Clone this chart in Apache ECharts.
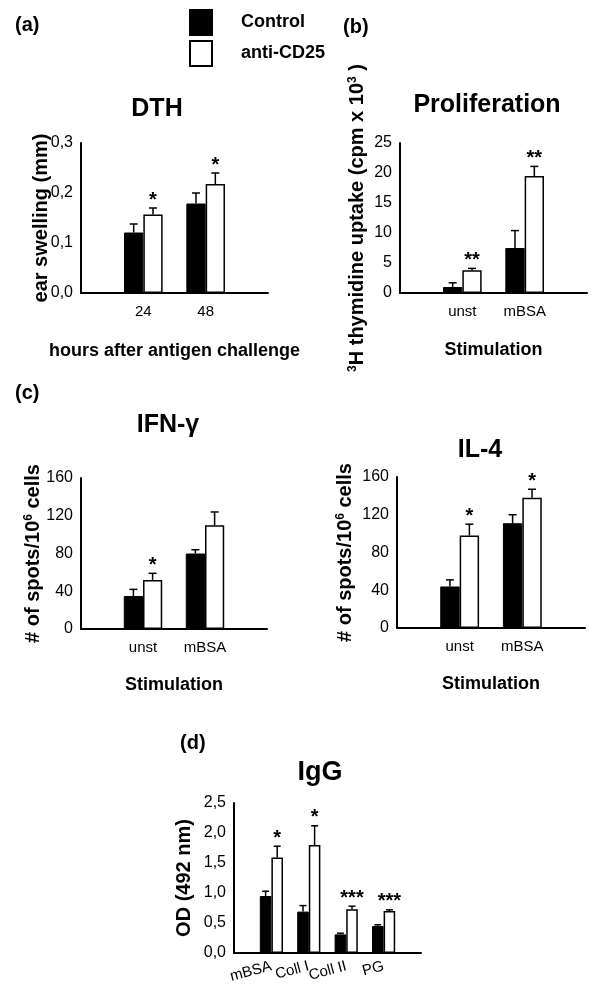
<!DOCTYPE html>
<html><head><meta charset="utf-8">
<script src="https://cdn.jsdelivr.net/npm/echarts@6/dist/echarts.min.js"></script>
<style>html,body{margin:0;padding:0;background:#fff}#c{width:600px;height:1000px}</style>
</head><body><div id="c"></div>
<script>
const FONT = '"Liberation Sans", Arial, Helvetica, sans-serif';
const seriesNames = ['Control', 'anti-CD25'];

// (a) DTH
const dthCategories = ['', '24', '48', ''];
const dthControl = [0.121, 0.179];
const dthControlSd = [0.017, 0.021];
const dthAnti = [0.157, 0.218];
const dthAntiSd = [0.013, 0.022];
const dthStars = ['*', '*'];

// (b) Proliferation
const prolCategories = ['', 'unst', 'mBSA', ''];
const prolControl = [1.0, 7.5];
const prolControlSd = [0.7, 2.9];
const prolAnti = [3.8, 19.5];
const prolAntiSd = [0.3, 1.6];
const prolStars = ['**', '**'];

// (c) IFN-gamma
const ifnCategories = ['', 'unst', 'mBSA', ''];
const ifnControl = [35, 80];
const ifnControlSd = [7, 4];
const ifnAnti = [52, 110];
const ifnAntiSd = [7, 14];
const ifnStars = ['*', ''];

// (c) IL-4
const il4Categories = ['', 'unst', 'mBSA', ''];
const il4Control = [44, 111];
const il4ControlSd = [7, 9];
const il4Anti = [98, 138];
const il4AntiSd = [12, 9];
const il4Stars = ['*', '*'];

// (d) IgG
const iggCategories = ['', 'mBSA', 'Coll I', 'Coll II', 'PG', ''];
const iggControl = [0.95, 0.69, 0.31, 0.45];
const iggControlSd = [0.08, 0.10, 0.02, 0.02];
const iggAnti = [1.59, 1.80, 0.73, 0.70];
const iggAntiSd = [0.19, 0.32, 0.05, 0.02];
const iggStars = ['*', '*', '***', '***'];

// axis ranges [min, max, interval]
const dthRange = [0, 0.3, 0.1];
const prolRange = [0, 25, 5];
const ifnRange = [0, 160, 40];
const il4Range = [0, 160, 40];
const iggRange = [0, 2.5, 0.5];

const BAR_FRAC = 0.31;
const comma1 = v => v.toFixed(1).replace('.', ',');
const intFmt = v => String(Math.round(v));

const panels = [
  { cats: dthCategories, c: dthControl, cs: dthControlSd, a: dthAnti, as: dthAntiSd, stars: dthStars, range: dthRange, fmt: comma1,
    grid: { left: 81, top: 143, width: 187, height: 150 },
    yName: 'ear swelling (mm)', yGap: 30, xName: 'hours after antigen challenge', xGap: 49, rotate: 0, xMargin: 11 },
  { cats: prolCategories, c: prolControl, cs: prolControlSd, a: prolAnti, as: prolAntiSd, stars: prolStars, range: prolRange, fmt: intFmt,
    grid: { left: 400, top: 143, width: 187, height: 150 },
    yName: '{s|3}H thymidine uptake (cpm x 10{s|3} )', yGap: 33, xName: 'Stimulation', xGap: 48, rotate: 0, xMargin: 11 },
  { cats: ifnCategories, c: ifnControl, cs: ifnControlSd, a: ifnAnti, as: ifnAntiSd, stars: ifnStars, range: ifnRange, fmt: intFmt,
    grid: { left: 81, top: 478, width: 186, height: 151 },
    yName: '# of spots/10{s|6} cells', yGap: 38, xName: 'Stimulation', xGap: 47, rotate: 0, xMargin: 11 },
  { cats: il4Categories, c: il4Control, cs: il4ControlSd, a: il4Anti, as: il4AntiSd, stars: il4Stars, range: il4Range, fmt: intFmt,
    grid: { left: 397, top: 477, width: 188, height: 151 },
    yName: '# of spots/10{s|6} cells', yGap: 42, xName: 'Stimulation', xGap: 47, rotate: 0, xMargin: 11 },
  { cats: iggCategories, c: iggControl, cs: iggControlSd, a: iggAnti, as: iggAntiSd, stars: iggStars, range: iggRange, fmt: comma1,
    grid: { left: 234, top: 803, width: 187, height: 150 },
    yName: 'OD (492 nm)', yGap: 40, xName: '', xGap: 40, rotate: 15, xMargin: 13 }
];

function errorRenderer(stars) {
  return function (params, api) {
    const cat = api.value(0), val = api.value(1), sd = api.value(2), side = api.value(3);
    const band = api.size([1, 0])[0];
    const bw = band * BAR_FRAC;
    const base = api.coord([cat, val]);
    const topP = api.coord([cat, val + sd]);
    const x = base[0] + (side === 0 ? -bw / 2 : bw / 2);
    const half = Math.min(4, bw * 0.3);
    const children = [
      { type: 'line', shape: { x1: x, y1: base[1], x2: x, y2: topP[1] }, style: { stroke: '#000', lineWidth: 1.5 } },
      { type: 'line', shape: { x1: x - half, y1: topP[1], x2: x + half, y2: topP[1] }, style: { stroke: '#000', lineWidth: 1.5 } }
    ];
    const star = side === 1 ? stars[cat - 1] : '';
    if (star) {
      children.push({ type: 'text', x: x, y: topP[1] - 8, style: { text: star, fontSize: 20, fontWeight: 'bold', fontFamily: FONT, fill: '#000', align: 'center', verticalAlign: 'middle' } });
    }
    return { type: 'group', children: children };
  };
}

const grids = [], xAxes = [], yAxes = [], series = [];
panels.forEach((p, i) => {
  grids.push(p.grid);
  xAxes.push({
    type: 'category', gridIndex: i, data: p.cats, boundaryGap: false,
    axisLine: { lineStyle: { color: '#000', width: 2 } },
    axisTick: { show: false },
    axisLabel: { interval: 0, color: '#000', fontSize: 15, fontFamily: FONT, margin: p.xMargin, rotate: p.rotate },
    splitLine: { show: false },
    name: p.xName, nameLocation: 'middle', nameGap: p.xGap, nameMoveOverlap: false,
    nameTextStyle: { color: '#000', fontSize: 18, fontWeight: 'bold', fontFamily: FONT }
  });
  yAxes.push({
    type: 'value', gridIndex: i, min: p.range[0], max: p.range[1], interval: p.range[2],
    axisLine: { show: true, lineStyle: { color: '#000', width: 2 } },
    axisTick: { show: false },
    splitLine: { show: false },
    axisLabel: { color: '#000', fontSize: 16, fontFamily: FONT, margin: 8, formatter: p.fmt },
    name: p.yName, nameLocation: 'middle', nameGap: p.yGap, nameRotate: 90, nameMoveOverlap: false,
    nameTextStyle: { color: '#000', fontSize: 20, fontWeight: 'bold', fontFamily: FONT,
      rich: { s: { fontSize: 12, fontWeight: 'bold', fontFamily: FONT, color: '#000', verticalAlign: 'top', padding: [0, 0, 8, 0] } } }
  });
  series.push({
    type: 'bar', name: seriesNames[0], xAxisIndex: i, yAxisIndex: i, barWidth: (BAR_FRAC * 100) + '%', barGap: '0%',
    itemStyle: { color: '#000', borderColor: '#000', borderWidth: 1 },
    data: p.c.map((v, k) => [k + 1, v])
  });
  series.push({
    type: 'bar', name: seriesNames[1], xAxisIndex: i, yAxisIndex: i, barWidth: (BAR_FRAC * 100) + '%', barGap: '0%',
    itemStyle: { color: '#fff', borderColor: '#000', borderWidth: 1.5 },
    data: p.a.map((v, k) => [k + 1, v])
  });
  const errData = [];
  p.c.forEach((v, k) => errData.push([k + 1, v, p.cs[k], 0]));
  p.a.forEach((v, k) => errData.push([k + 1, v, p.as[k], 1]));
  series.push({
    type: 'custom', xAxisIndex: i, yAxisIndex: i, z: 5, silent: true,
    renderItem: errorRenderer(p.stars), data: errData
  });
});

const txt = (t, x, y, size, align) => ({
  type: 'text', x: x, y: y, silent: true,
  style: { text: t, fontSize: size, fontWeight: 'bold', fontFamily: FONT, fill: '#000', align: align || 'center', verticalAlign: 'middle' }
});

const chart = echarts.init(document.getElementById('c'), null, { renderer: 'canvas' });
chart.setOption({
  animation: false,
  backgroundColor: '#fff',
  legend: {
    data: seriesNames, orient: 'vertical', left: 189, top: 9, padding: 0,
    itemWidth: 22, itemHeight: 25, itemGap: 4, icon: 'rect', selectedMode: false,
    textStyle: { fontSize: 18, fontWeight: 'bold', fontFamily: FONT, color: '#000', padding: [0, 0, 0, 24] }
  },
  grid: grids, xAxis: xAxes, yAxis: yAxes, series: series,
  graphic: [
    txt('(a)', 15, 25, 20, 'left'),
    txt('(b)', 343, 27, 20, 'left'),
    txt('(c)', 15, 393, 20, 'left'),
    txt('(d)', 180, 743, 20, 'left'),
    txt('DTH', 157, 109, 25),
    txt('Proliferation', 487, 105, 25),
    txt('IFN-γ', 168, 425, 25),
    txt('IL-4', 480, 450, 25),
    txt('IgG', 320, 773, 27)
  ]
});
</script>
</body></html>
